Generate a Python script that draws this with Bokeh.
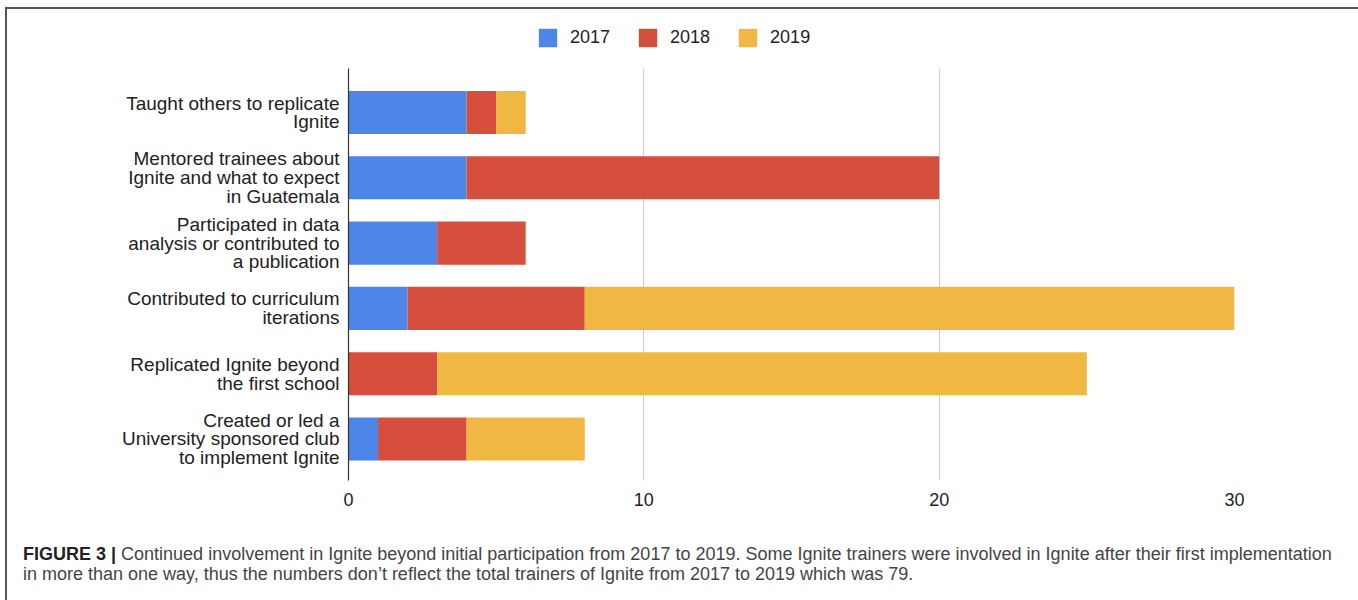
from bokeh.plotting import figure
from bokeh.layouts import column
from bokeh.models import ColumnDataSource, Range1d, FixedTicker, Legend, LegendItem, Div
from bokeh.embed import file_html
from bokeh.resources import INLINE

categories = [
    "Taught others to replicate\nIgnite",
    "Mentored trainees about\nIgnite and what to expect\nin Guatemala",
    "Participated in data\nanalysis or contributed to\na publication",
    "Contributed to curriculum\niterations",
    "Replicated Ignite beyond\nthe first school",
    "Created or led a\nUniversity sponsored club\nto implement Ignite",
]
v2017 = [4, 4, 3, 2, 0, 1]
v2018 = [1, 16, 3, 6, 3, 3]
v2019 = [1, 0, 0, 22, 22, 4]
years = ["2017", "2018", "2019"]
colors = ["#4D86E8", "#D64F3C", "#F0B742"]
x_ticks = [0, 10, 20, 30]
caption_bold = "FIGURE 3 |"
caption_line1 = ("Continued involvement in Ignite beyond initial participation from 2017 to 2019. "
                 "Some Ignite trainers were involved in Ignite after their first implementation")
caption_line2 = ("in more than one way, thus the numbers don\u2019t reflect the total trainers of Ignite "
                 "from 2017 to 2019 which was 79.")

idx = list(range(len(categories)))
source = ColumnDataSource(dict(y=idx, y2017=v2017, y2018=v2018, y2019=v2019))
stackers = ["y2017", "y2018", "y2019"]

W = 1349

# ---- legend strip (its renderers are hidden; only the legend shows) ----
lf = figure(width=W, height=59, output_backend="svg", toolbar_location=None,
            x_range=Range1d(0, 30), y_range=Range1d(-0.5, 5.5),
            min_border=0, min_border_left=0, min_border_right=0,
            min_border_top=0, min_border_bottom=0)
lf.axis.visible = False
lf.grid.visible = False
lf.outline_line_color = None
leg_r = lf.hbar_stack(stackers, y="y", height=0.66, color=colors, line_color=None,
                      source=source)
for r in leg_r:
    r.visible = False
leg = Legend(items=[LegendItem(label=y, renderers=[r]) for y, r in zip(years, leg_r)],
             orientation="horizontal", location=(188, 19),
             border_line_color=None, background_fill_alpha=0,
             inactive_fill_alpha=0,
             padding=0, margin=0, spacing=26,
             glyph_width=23, glyph_height=23, label_height=23, label_standoff=11,
             label_text_font="Liberation Sans", label_text_font_size="18px",
             label_text_color="#222222")
lf.add_layout(leg)

# ---- main chart ----
p = figure(width=W, height=452, output_backend="svg", toolbar_location=None,
           x_range=Range1d(0, 30), y_range=Range1d(5.636, -0.674),
           min_border_left=341, min_border_right=122, min_border_top=0,
           min_border_bottom=40)
p.outline_line_color = None

p.hbar_stack(stackers, y="y", height=0.66, color=colors, line_color=None, source=source)

p.xaxis.ticker = FixedTicker(ticks=x_ticks)
p.xaxis.axis_line_color = None
p.xaxis.major_tick_line_color = None
p.xaxis.minor_tick_line_color = None
p.xaxis.major_tick_in = 0
p.xaxis.major_tick_out = 0
p.xaxis.major_label_standoff = 12
p.xaxis.major_label_text_font = "Liberation Sans"
p.xaxis.major_label_text_font_size = "18px"
p.xaxis.major_label_text_color = "#222222"

p.yaxis.ticker = FixedTicker(ticks=idx)
p.yaxis.major_label_overrides = {i: c for i, c in zip(idx, categories)}
p.yaxis.axis_line_color = "#333333"
p.yaxis.axis_line_width = 1.2
p.yaxis.major_tick_line_color = None
p.yaxis.minor_tick_line_color = None
p.yaxis.major_tick_in = 0
p.yaxis.major_tick_out = 0
p.yaxis.major_label_standoff = 9
p.yaxis.major_label_text_font = "Liberation Sans"
p.yaxis.major_label_text_font_size = "19px"
p.yaxis.major_label_text_color = "#222222"
p.yaxis.major_label_text_line_height = 0.9

p.xgrid.grid_line_color = "#cccccc"
p.xgrid.grid_line_width = 1
p.ygrid.grid_line_color = None

# ---- caption ----
caption_html = (
    '<div style="padding:19px 0 0 11px; font-family:\'Liberation Sans\'; font-size:18px; '
    'line-height:20px; color:#444444; white-space:nowrap;">'
    '<span style="font-weight:bold; color:#222222;">' + caption_bold + '</span> '
    + caption_line1 + '<br>' + caption_line2 + '</div>'
)
cap = Div(text=caption_html, width=W, height=80)

layout = column(lf, p, cap, margin=(9, 2, 0, 7), spacing=0,
                styles={"outline": "2px solid #555555"})

open("out.html", "w").write(file_html(layout, INLINE))
